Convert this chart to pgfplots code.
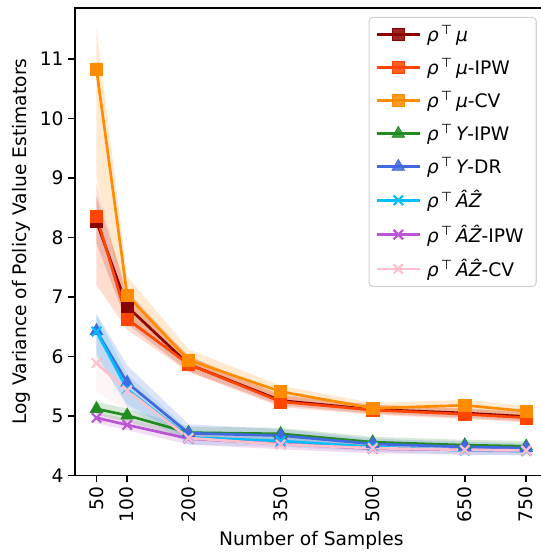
\documentclass[border=0pt]{standalone}
\usepackage{pgfplots}
\pgfplotsset{compat=1.18}
\usepackage{pgfplotstable}
\usepgfplotslibrary{fillbetween}
\usepackage{fontspec}
\setmainfont{DejaVu Sans}
\definecolor{cdarkred}{RGB}{139,0,0}
\definecolor{corangered}{RGB}{255,69,0}
\definecolor{cdarkorange}{RGB}{255,140,0}
\definecolor{cgreen}{RGB}{34,139,34}
\definecolor{croyal}{RGB}{65,105,225}
\definecolor{csky}{RGB}{0,191,255}
\definecolor{corchid}{RGB}{186,85,211}
\definecolor{cpink}{RGB}{255,192,203}

\pgfplotstableread{
x y lo hi
50 8.27 7.90 8.70
100 6.84 6.55 7.10
200 5.87 5.75 6.00
350 5.26 5.18 5.36
500 5.11 5.04 5.19
650 5.05 4.97 5.13
750 4.99 4.91 5.07
}\tA
\pgfplotstableread{
x y lo hi
50 8.36 7.20 8.92
100 6.63 6.45 6.95
200 5.87 5.74 6.02
350 5.24 5.15 5.34
500 5.10 5.02 5.19
650 5.03 4.95 5.12
750 4.97 4.89 5.06
}\tB
\pgfplotstableread{
x y lo hi
50 10.83 9.00 11.51
100 7.03 6.70 7.35
200 5.94 5.80 6.12
350 5.41 5.31 5.51
500 5.13 5.05 5.22
650 5.18 5.09 5.27
750 5.08 5.00 5.17
}\tC
\pgfplotstableread{
x y lo hi
50 5.12 5.02 5.24
100 5.01 4.90 5.12
200 4.72 4.62 4.82
350 4.70 4.60 4.80
500 4.56 4.47 4.65
650 4.51 4.42 4.60
750 4.49 4.40 4.58
}\tD
\pgfplotstableread{
x y lo hi
50 6.43 6.00 6.72
100 5.56 5.20 5.85
200 4.71 4.60 4.86
350 4.67 4.58 4.78
500 4.53 4.46 4.62
650 4.48 4.41 4.57
750 4.46 4.38 4.54
}\tE
\pgfplotstableread{
x y lo hi
50 6.42 6.05 6.70
100 5.45 5.15 5.70
200 4.64 4.52 4.76
350 4.58 4.48 4.68
500 4.48 4.40 4.56
650 4.42 4.35 4.50
750 4.41 4.34 4.49
}\tF
\pgfplotstableread{
x y lo hi
50 4.97 4.88 5.06
100 4.85 4.76 4.95
200 4.62 4.52 4.72
350 4.53 4.44 4.62
500 4.45 4.37 4.53
650 4.43 4.35 4.51
750 4.42 4.34 4.50
}\tG
\pgfplotstableread{
x y lo hi
50 5.89 5.40 6.32
100 5.43 5.08 5.70
200 4.63 4.53 4.73
350 4.52 4.44 4.62
500 4.46 4.38 4.54
650 4.43 4.36 4.52
750 4.42 4.35 4.51
}\tH

\newcommand{\band}[3]{%
\addplot[draw=none, forget plot, name path=lo#2] table[x=x,y=lo]{#1};
\addplot[draw=none, forget plot, name path=hi#2] table[x=x,y=hi]{#1};
\addplot[fill=#3, fill opacity=0.18, draw=none, forget plot] fill between[of=lo#2 and hi#2];
}
\newcommand{\rt}{{\itshape ρ}\textsuperscript{\,⊤}\,}
\newcommand{\AZ}{{\itshape Â}{\itshape Ẑ}}

\begin{document}
\begin{tikzpicture}[font=\fontsize{14}{16.8}\selectfont]
\begin{axis}[
  name=ax,
  scale only axis,
  width=354.5pt, height=350.6pt,
  xmin=15, xmax=785, ymin=4, ymax=11.86,
  xtick={50,100,200,350,500,650,750},
  ytick={4,5,6,7,8,9,10,11},
  xticklabel style={rotate=90, anchor=east},
  /pgf/number format/assume math mode=true,
  /pgf/number format/1000 sep={},
  tick align=outside,
  xtick pos=bottom, ytick pos=left,
  major tick length=5pt,
  every tick/.style={black, line width=1.1pt},
  axis line style={line width=1.1pt},
  xlabel={Number of Samples},
  ylabel={Log Variance of Policy Value Estimators},
  legend cell align=left,
  legend style={at={(0.977,0.981)}, anchor=north east, draw=black!18, line width=0.8pt,
    rounded corners=3pt, fill=white, fill opacity=0.85, text opacity=1,
    inner xsep=5pt, inner ysep=5pt, row sep=9.2pt,
    nodes={inner xsep=4.5pt, inner ysep=1pt}},
  legend image code/.code={\draw[line width=2pt, mark repeat=2,mark phase=2] plot coordinates {(0cm,0cm) (0.56cm,0cm) (1.12cm,0cm)};},
  every axis plot/.append style={line width=2pt},
]
\band{\tA}{A}{cdarkred}
\band{\tB}{B}{corangered}
\band{\tC}{C}{cdarkorange}
\band{\tD}{D}{cgreen}
\band{\tE}{E}{croyal}
\band{\tF}{F}{csky}
\band{\tG}{G}{corchid}
\band{\tH}{H}{cpink}

\addplot[cdarkred, mark=square*, mark size=4.6pt, mark options={solid, line width=0.5pt}] table[x=x,y=y]{\tA};
\addlegendentry{\rt{\itshape μ}}
\addplot[corangered, mark=square*, mark size=4.6pt, mark options={solid, line width=0.5pt}] table[x=x,y=y]{\tB};
\addlegendentry{\rt{\itshape μ}-IPW}
\addplot[cdarkorange, mark=square*, mark size=4.6pt, mark options={solid, line width=0.5pt}] table[x=x,y=y]{\tC};
\addlegendentry{\rt{\itshape μ}-CV}
\addplot[cgreen, mark=triangle*, mark size=5.5pt, mark options={solid, line width=0.5pt}] table[x=x,y=y]{\tD};
\addlegendentry{\rt{\itshape Y}-IPW}
\addplot[croyal, mark=triangle*, mark size=5.5pt, mark options={solid, line width=0.5pt}] table[x=x,y=y]{\tE};
\addlegendentry{\rt{\itshape Y}-DR}
\addplot[csky, mark=x, mark size=5pt, mark options={solid, line width=1.6pt}] table[x=x,y=y]{\tF};
\addlegendentry{\rt\AZ}
\addplot[corchid, mark=x, mark size=5pt, mark options={solid, line width=1.6pt}] table[x=x,y=y]{\tG};
\addlegendentry{\rt\AZ-IPW}
\addplot[cpink, mark=x, mark size=5pt, mark options={solid, line width=1.6pt}] table[x=x,y=y]{\tH};
\addlegendentry{\rt\AZ-CV}
\end{axis}
\pgfresetboundingbox
\path[use as bounding box] ([shift={(-56.25pt,-57.4pt)}]ax.south west) rectangle ++(405pt,414pt);
\end{tikzpicture}
\end{document}
